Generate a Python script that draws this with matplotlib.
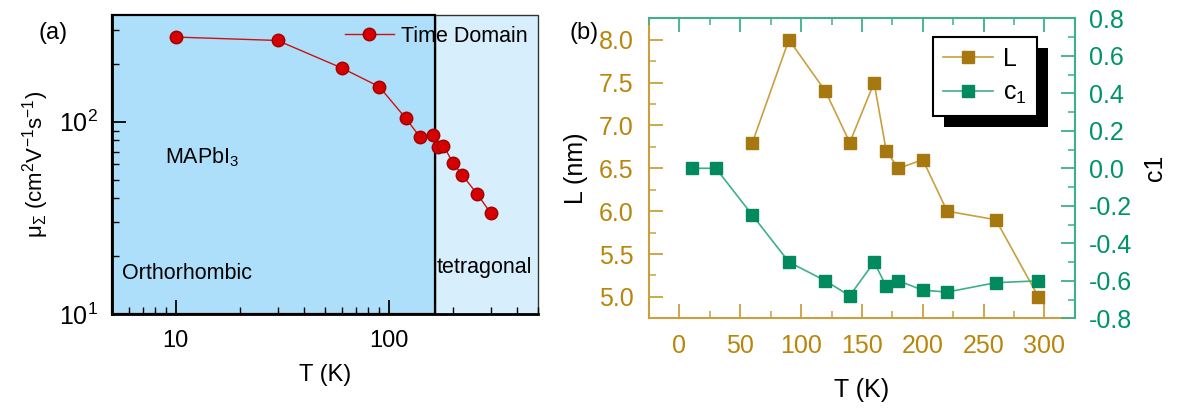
import matplotlib
matplotlib.use('Agg')
import matplotlib.pyplot as plt
from matplotlib.ticker import MultipleLocator, NullFormatter, LogLocator
from matplotlib.patches import Rectangle

plt.rcParams['font.family'] = ['Liberation Sans', 'DejaVu Sans']
plt.rcParams['mathtext.default'] = 'regular'
plt.rcParams['axes.unicode_minus'] = False

# panel (a): mobility vs temperature
T_a = [10, 30, 60, 90, 120, 140, 160, 170, 180, 200, 220, 260, 300]
mu = [275, 264, 190, 152, 104, 83, 85, 74, 75, 61, 53, 42, 33.5]
T_phase = 164  # orthorhombic / tetragonal boundary

# panel (b): L and c1 vs temperature
T_L = [60, 90, 120, 140, 160, 170, 180, 200, 220, 260, 295]
L = [6.8, 8.0, 7.4, 6.8, 7.5, 6.7, 6.5, 6.6, 6.0, 5.9, 5.0]
T_c = [10, 30, 60, 90, 120, 140, 160, 170, 180, 200, 220, 260, 295]
c1 = [0.0, 0.0, -0.25, -0.50, -0.60, -0.68, -0.50, -0.63, -0.60, -0.65, -0.66, -0.61, -0.60]

gold = '#B8860B'
gold_line = '#C9A040'
gold_mark = '#A87810'
green = '#00936A'
green_line = '#3DB08A'
green_mark = '#008A5E'

fig = plt.figure(figsize=(11.78, 4.12), dpi=100)

# ---------------- (a)
ax1 = fig.add_axes([0.0948, 0.2371, 0.3619, 0.7265])
ax1.set_xscale('log')
ax1.set_yscale('log')
ax1.set_xlim(5, 500)
ax1.set_ylim(10, 358)
ax1.axvspan(T_phase, 500, facecolor='#D7EEFC', edgecolor='#333333', lw=1.0,
            clip_on=False, zorder=0)
ax1.axvspan(5, T_phase, facecolor='#AEDFFA', edgecolor='black', lw=1.6,
            clip_on=False, zorder=0.5)
ax1.plot(T_a, mu, '-o', color='#CC1111', mfc='#D50000', mec='#A00000',
         ms=9, lw=1, label='Time Domain', zorder=3)
for s in ['top', 'right']:
    ax1.spines[s].set_visible(False)
for s in ['left', 'bottom']:
    ax1.spines[s].set_linewidth(2)
ax1.set_xticks([10, 100], ['10', '100'])
ax1.xaxis.set_minor_locator(LogLocator(base=10, subs=range(2, 10)))
ax1.xaxis.set_minor_formatter(NullFormatter())
ax1.yaxis.set_minor_formatter(NullFormatter())
ax1.tick_params(which='both', direction='in', top=False, right=False, labelsize=17)
ax1.tick_params(axis='y', labelsize=18)
ax1.tick_params(which='major', length=10, width=1.3)
ax1.tick_params(which='minor', length=5, width=1)
ax1.tick_params(axis='x', pad=11)
ax1.tick_params(axis='y', pad=10)
ax1.set_xlabel('T (K)', fontsize=17, labelpad=9)
ax1.set_ylabel(r'$\mu_{\Sigma}$ (cm$^2$V$^{-1}$s$^{-1}$)', fontsize=16, labelpad=6)
ax1.legend(loc='upper right', frameon=False, fontsize=15.5, handlelength=2.3,
           handletextpad=0.3, borderaxespad=0.1)
ax1.text(0.125, 0.526, r'MAPbI$_3$', transform=ax1.transAxes, fontsize=15.5,
         va='center', ha='left')
ax1.text(0.025, 0.135, 'Orthorhombic', transform=ax1.transAxes, fontsize=15.5,
         va='center', ha='left')
ax1.text(0.762, 0.155, 'tetragonal', transform=ax1.transAxes, fontsize=15.5,
         va='center', ha='left')
fig.text(0.045, 0.92, '(a)', fontsize=17, ha='center', va='center')

# ---------------- (b)
ax2 = fig.add_axes([0.5509, 0.2274, 0.3616, 0.7282])
ax3 = ax2.twinx()
ax2.plot(T_L, L, '-s', color=gold_line, mfc=gold_mark, mec=gold_mark, ms=9, lw=1.2,
         label='L')
ax3.plot(T_c, c1, '-s', color=green_line, mfc=green_mark, mec=green_mark, ms=9, lw=1.2,
         label='c$_1$')
ax2.set_xlim(-25, 325)
ax2.set_ylim(4.75, 8.25)
ax3.set_ylim(-0.8, 0.8)
ax2.xaxis.set_major_locator(MultipleLocator(50))
ax2.xaxis.set_minor_locator(MultipleLocator(25))
ax2.yaxis.set_major_locator(MultipleLocator(0.5))
ax2.yaxis.set_minor_locator(MultipleLocator(0.25))
ax2.yaxis.set_major_formatter('{x:.1f}')
ax3.yaxis.set_major_locator(MultipleLocator(0.2))
ax3.yaxis.set_minor_locator(MultipleLocator(0.1))
ax3.yaxis.set_major_formatter('{x:.1f}')

ax2.spines['top'].set_visible(False)
ax2.spines['right'].set_visible(False)
ax3.spines['left'].set_visible(False)
ax3.spines['bottom'].set_visible(False)
for s in ['left', 'bottom']:
    ax2.spines[s].set_color(gold_line)
    ax2.spines[s].set_linewidth(1.5)
for s in ['top', 'right']:
    ax3.spines[s].set_color(green_line)
    ax3.spines[s].set_linewidth(1.5)

ax2.tick_params(which='both', direction='in', top=False, right=False,
                colors=gold, labelsize=18)
ax2.tick_params(which='both', color=gold_line)
ax2.tick_params(which='major', length=10, width=1.3)
ax2.tick_params(which='minor', length=5, width=1.1)
ax2.tick_params(axis='x', pad=11)
ax2.tick_params(axis='y', pad=11)

ax3.xaxis.set_visible(True)
ax3.tick_params(axis='x', which='both', bottom=False, top=True, labelbottom=False,
                labeltop=False, direction='in', color=green_line)
ax3.tick_params(axis='y', which='both', direction='in', colors=green, labelsize=18, pad=10)
ax3.tick_params(axis='y', which='both', color=green_line)
ax3.tick_params(which='major', length=10, width=1.3)
ax3.tick_params(which='minor', length=5, width=1.1)

ax2.set_xlabel('T (K)', fontsize=18, labelpad=15)
ax2.set_ylabel('L (nm)', fontsize=18, labelpad=8)
ax3.set_ylabel('c1', fontsize=18, labelpad=8)

h1, l1 = ax2.get_legend_handles_labels()
h2, l2 = ax3.get_legend_handles_labels()
leg = ax3.legend(h1 + h2, l1 + l2, loc='upper right', bbox_to_anchor=(0.911, 0.938),
                 borderaxespad=0, fontsize=18, handlelength=2.0, handletextpad=0.4,
                 labelspacing=0.4, fancybox=False, framealpha=1, edgecolor='black')
leg.get_frame().set_linewidth(1.5)
leg.set_zorder(6)
fig.text(0.496, 0.92, '(b)', fontsize=17, ha='center', va='center')

# offset black shadow behind the legend box
fig.canvas.draw()
bb = leg.get_frame().get_window_extent().transformed(ax3.transAxes.inverted())
dx = 11 / ax3.bbox.width
dy = 11 / ax3.bbox.height
ax3.add_patch(Rectangle((bb.x0 + dx, bb.y0 - dy), bb.width, bb.height,
                        transform=ax3.transAxes, facecolor='black', edgecolor='none',
                        clip_on=False, zorder=5))

fig.savefig('out.png', dpi=100)
